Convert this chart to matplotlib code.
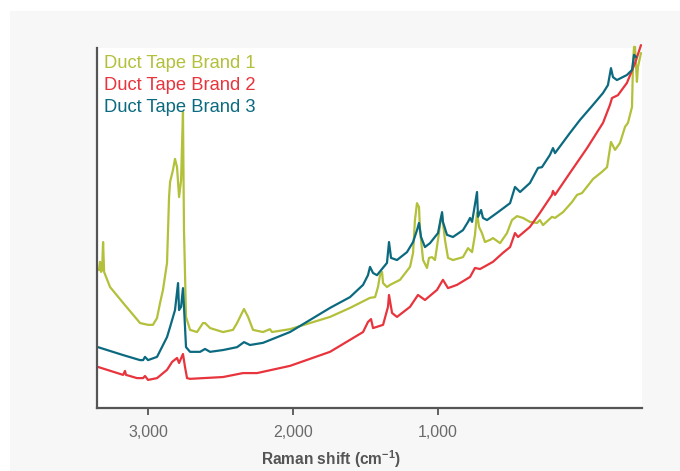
import numpy as np
import matplotlib.pyplot as plt
from matplotlib.patches import Rectangle

plt.rcParams['font.family'] = ['Liberation Sans', 'DejaVu Sans']
plt.rcParams['mathtext.fontset'] = 'custom'
plt.rcParams['mathtext.rm'] = 'Liberation Sans'
plt.rcParams['mathtext.bf'] = 'Liberation Sans:bold'

# Raman shift (cm-1) and intensity (arbitrary units)
shift_1 = [3338, 3331, 3324, 3317, 3310, 3303, 3262, 3172, 3055, 3000, 2966, 2938, 2917, 2897,
           2869, 2855, 2848, 2828, 2814, 2800, 2786, 2772, 2766, 2759, 2752, 2738, 2710, 2662,
           2621, 2607, 2572, 2483, 2414, 2386, 2352, 2338, 2310, 2276, 2207, 2159, 2145, 2021,
           1745, 1607, 1469, 1434, 1414, 1400, 1386, 1379, 1352, 1331, 1262, 1193, 1172, 1159,
           1145, 1131, 1124, 1103, 1076, 1062, 1041, 1021, 1000, 979, 972, 952, 931, 897, 828,
           793, 765, 745, 731, 717, 697, 676, 641, 621, 572, 524, 490, 455, 414, 366, 317, 297,
           276, 214, 193, 138, 76, 41, 7, -48, -69, -131, -166, -193, -221, -255, -290, -310,
           -338, -345, -352, -359, -372, -379, -400]
brand_1 = [38.3, 40.6, 37.8, 38.3, 46.1, 37.8, 33.6, 29.2, 23.6, 23.1, 23.1, 25.0, 29.2, 32.8,
           40.3, 58.6, 62.8, 66.1, 69.2, 66.9, 58.6, 63.3, 72.5, 82.2, 49.4, 25.3, 21.7, 21.1,
           23.6, 23.6, 22.2, 21.1, 21.7, 23.6, 26.4, 27.5, 25.3, 21.7, 21.1, 21.9, 21.1, 21.9,
           25.3, 27.8, 30.6, 30.8, 33.6, 36.9, 37.8, 34.7, 33.6, 34.2, 35.6, 39.2, 43.1, 52.2,
           56.9, 55.8, 49.4, 41.1, 38.9, 41.7, 41.9, 41.1, 46.7, 53.1, 53.6, 46.7, 41.7, 41.1, 41.9,
           44.4, 43.3, 48.1, 54.2, 50.3, 48.6, 46.1, 46.7, 47.2, 45.8, 48.6, 52.2, 53.3, 52.8, 51.7,
           51.4, 52.2, 50.8, 53.1, 52.8, 54.4, 57.2, 59.2, 59.7, 62.5, 63.6, 65.6, 66.9, 73.9, 71.7,
           73.6, 78.1, 79.2, 83.6, 95.8, 100.3, 100.3, 90.6, 94.7, 98.6]

shift_2 = [3345, 3172, 3159, 3152, 3076, 3034, 3021, 3000, 2938, 2869, 2834, 2800, 2786, 2759,
           2745, 2731, 2710, 2483, 2345, 2248, 2021, 1745, 1517, 1483, 1462, 1448, 1379, 1345,
           1338, 1317, 1283, 1193, 1138, 1090, 1007, 966, 931, 869, 779, 745, 710, 621, 552, 503,
           469, 448, 366, 297, 214, 207, 193, 90, -28, -138, -186, -200, -241, -303, -359, -400]
brand_2 = [11.4, 9.2, 10.3, 9.2, 8.3, 8.3, 8.9, 7.8, 8.3, 10.6, 12.8, 13.9, 12.5, 15.0,
           11.4, 8.3, 8.1, 8.6, 9.7, 9.7, 11.7, 15.6, 21.1, 23.9, 24.7, 22.2, 23.1, 28.1,
           31.4, 26.4, 25.3, 28.1, 31.4, 30.0, 32.8, 35.6, 33.3, 34.2, 36.4, 38.9, 38.6, 40.6, 43.1, 44.7,
           48.6, 47.5, 50.3, 54.2, 59.2, 60.3, 59.2, 65.3, 72.2, 79.2, 84.2, 86.1, 86.9, 90.3, 95.8, 100.8]

shift_3 = [3345, 3172, 3055, 3034, 3021, 3000, 2938, 2869, 2848, 2814, 2793, 2786, 2772, 2759,
           2752, 2738, 2710, 2641, 2607, 2572, 2483, 2386, 2338, 2297, 2207, 2021, 1745, 1607,
           1517, 1483, 1469, 1448, 1421, 1352, 1338, 1324, 1283, 1214, 1172, 1145, 1131, 1117,
           1090, 1055, 1000, 972, 966, 938, 897, 828, 793, 779, 765, 731, 724, 703, 690, 662, 593,
           503, 469, 434, 366, 310, 283, 228, 207, 193, 90, 21, -69, -138, -172, -193, -207, -234,
           -303, -338, -352, -366]
brand_3 = [16.9, 14.7, 13.3, 13.3, 14.2, 13.3, 14.2, 19.7, 22.5, 27.2, 34.7, 27.2, 28.1, 33.3,
           28.1, 16.9, 15.6, 15.6, 16.4, 15.6, 16.1, 16.9, 18.3, 17.5, 18.1, 21.1, 27.8, 30.8,
           34.2, 36.9, 39.2, 37.5, 36.9, 40.3, 46.1, 41.7, 41.1, 43.3, 46.1, 49.4, 51.4, 47.5,
           44.7, 45.8, 48.6, 54.4, 51.7, 48.1, 47.5, 49.4, 51.7, 52.8, 51.7, 60.0, 53.1, 55.0, 52.8, 52.2, 54.2,
           56.9, 61.4, 60.0, 62.5, 66.7, 66.9, 70.3, 72.2, 70.8, 76.4, 80.0, 84.2, 87.5, 89.7, 94.4, 91.9, 91.1,
           92.5, 93.9, 98.1, 97.5]

labels = ['Duct Tape Brand 1', 'Duct Tape Brand 2', 'Duct Tape Brand 3']
colors = ['#b3c03a', '#e8343c', '#0c6a80']
ticks = [3000, 2000, 1000]


def plot():
    fig = plt.figure(figsize=(6.8, 4.71), dpi=100)
    fig.patches.append(Rectangle((10 / 680, 0), 1, 460 / 471, transform=fig.transFigure,
                                 facecolor='#f7f7f7', edgecolor='none', zorder=-5))
    ax = fig.add_axes([97 / 680, 63 / 471, 545 / 680, 360 / 471])
    ax.set_zorder(2)
    ax.set_facecolor('white')

    series = [(shift_1, brand_1), (shift_2, brand_2), (shift_3, brand_3)]
    for (x, y), c in zip(series, colors):
        ax.plot(np.array(x), np.array(y), color=c, lw=1.6, clip_on=False,
                solid_joinstyle='round', solid_capstyle='round')

    ax.set_xlim(3352, -407)
    ax.set_ylim(0, 100)
    ax.set_xticks(ticks)
    ax.set_xticklabels(['{:,}'.format(t) for t in ticks])
    ax.set_yticks([])
    for s in ['top', 'right']:
        ax.spines[s].set_visible(False)
    for s in ['left', 'bottom']:
        ax.spines[s].set_color('#555555')
        ax.spines[s].set_linewidth(1.6)
    ax.tick_params(axis='x', length=5, width=1.3, color='#555555', labelsize=11.5,
                   labelcolor='#6a6a6a', pad=7)
    ax.set_xlabel(r'Raman shift (cm$^{\mathbf{-1}}$)', fontsize=11.2, fontweight='bold',
                  color='#555555')
    ax.xaxis.set_label_coords((331 - 97) / 545, -(448 - 408) / 360)

    for i, (lab, c) in enumerate(zip(labels, colors)):
        ax.text(0.0135, (408 - 63 - 22.5 * i) / 360, lab, color=c, fontsize=13.2,
                transform=ax.transAxes, va='center', ha='left')

    plt.savefig('out.png', dpi=100)


if __name__ == "__main__":
    plot()
